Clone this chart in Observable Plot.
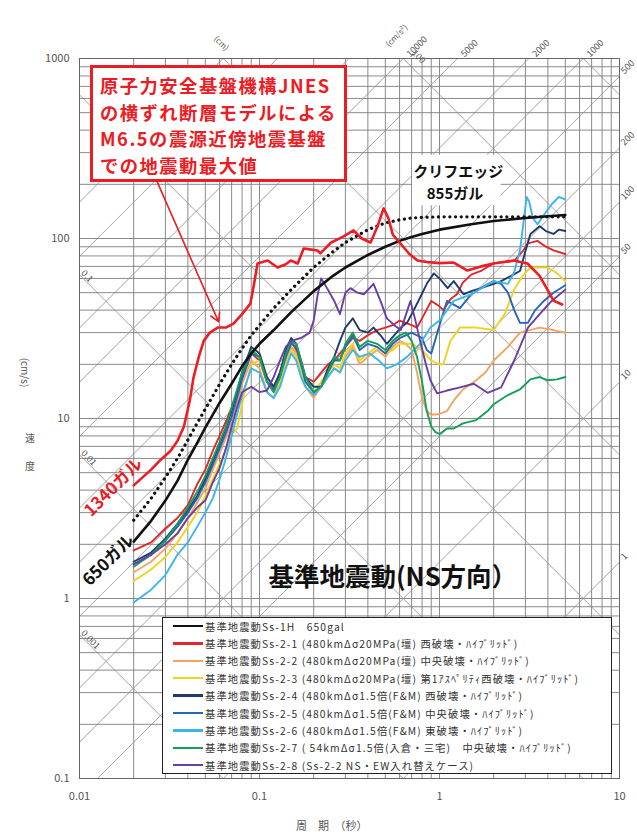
<!DOCTYPE html>
<html>
<head>
<meta charset="utf-8">
<script src="https://cdn.jsdelivr.net/npm/d3@7"></script>
<script src="https://cdn.jsdelivr.net/npm/@observablehq/plot@0.6"></script>
<style>
  body { margin: 0; background: #fff; }
  #wrap { position: relative; width: 637px; height: 832px; overflow: hidden;
          font-family: "Noto Sans CJK JP", "Noto Sans", sans-serif; }
  #wrap svg { position: absolute; left: 0; top: 0; }
  .abs { position: absolute; white-space: nowrap; }
  #note { left: 90px; top: 65px; width: 257px; height: 117px; box-sizing: border-box;
          border: 3px solid #ec1c24; background: #fff; }
  .nline { position: absolute; left: 7px; color: #ec1c24; font-weight: bold;
           font-size: 18.3px; line-height: 26.5px; letter-spacing: 1.5px; }
  #legend { left: 162px; top: 617px; width: 450px; height: 157px; box-sizing: border-box;
            border: 1.5px solid #222; background: #fff; }
  .lrow { position: absolute; left: 10px; height: 16px; display: flex; align-items: center;
          font-size: 10.3px; color: #333; letter-spacing: 1.1px; }
  .lrow span.sw { display: inline-block; width: 30px; height: 2.6px; margin-right: 2px; }
  .axt { color: #555; font-size: 11px; }
</style>
</head>
<body>
<div id="wrap"></div>
<script>
// ---- tick values and labels ----
const periodTicks = [0.01, 0.1, 1, 10];
const periodTickLabels = ["0.01", "0.1", "1", "10"];
const velocityTicks = [0.1, 1, 10, 100, 1000];
const velocityTickLabels = ["0.1", "1", "10", "100", "1000"];

// tripartite guide lines: pseudo-acceleration (cm/s²) and displacement (cm)
const accelLines = [1, 10, 50, 100, 200, 500, 1000, 2000, 5000, 10000, 20000, 50000, 100000];
const dispLines = [0.001, 0.01, 0.1, 1, 10, 100, 1000];
const accelTopLabels = [10000, 5000, 2000, 1000];
const accelRightLabels = [500, 200, 100, 50, 10, 1];
const dispLeftLabels = [0.1, 0.01, 0.001];
const dispTopLabels = [100];

// ---- response spectra (period s, velocity cm/s) ----
const ss1H = [[0.02,2.07],[0.025,2.7],[0.03,3.5],[0.035,4.5],[0.04,5.9],[0.045,7.3],[0.05,8.9],[0.06,12.2],[0.07,15.6],[0.08,19.5],[0.09,23],[0.1,26],[0.12,31],[0.15,39],[0.2,51],[0.25,61],[0.3,69],[0.4,81],[0.5,90],[0.6,97],[0.7,102],[0.8,106],[1.0,112],[1.5,120],[2,125],[3,130],[4,133],[5,135]];
const cliffEdge = [[0.02,2.72],[0.025,3.6],[0.03,4.7],[0.035,6.0],[0.04,7.6],[0.045,9.4],[0.05,11.3],[0.06,15.5],[0.07,20],[0.08,24.5],[0.09,29],[0.1,33],[0.12,41],[0.15,52],[0.2,69],[0.25,83],[0.3,95],[0.4,112],[0.5,122],[0.6,127],[0.7,130],[0.8,131],[1,132],[2,132],[3,132],[5,132]];
const jnesM65 = [[0.02,4.25],[0.025,5.2],[0.028,5.85],[0.032,6.6],[0.035,7.5],[0.038,9],[0.041,12.6],[0.043,16.9],[0.046,22],[0.049,27],[0.053,30],[0.0585,32],[0.065,32],[0.0717,33.7],[0.08,38],[0.089,43.5],[0.093,55],[0.0975,72.6],[0.111,75.5],[0.126,69],[0.14,72],[0.149,75.5],[0.163,72.6],[0.176,88],[0.19,87],[0.21,85.8],[0.218,82.6],[0.25,95],[0.29,102],[0.333,111],[0.37,100],[0.414,95],[0.45,115],[0.489,147],[0.52,130],[0.55,105],[0.607,93.8],[0.68,82],[0.755,75.5],[0.85,74],[1.0,73],[1.2,73.5],[1.43,66.4],[1.7,70],[2.0,72.6],[2.58,75.5],[3.08,72.6],[3.6,62],[4.3,45.2],[4.8,43]];
const ss2_1 = [[0.02,1.85],[0.025,2.05],[0.03,2.45],[0.035,2.8],[0.04,3.3],[0.045,4.3],[0.05,5.2],[0.055,6.6],[0.06,8.0],[0.065,9.6],[0.07,11.5],[0.075,14],[0.08,17],[0.09,23],[0.1,21],[0.11,16],[0.12,15],[0.13,18],[0.14,23],[0.15,27],[0.16,24],[0.17,20],[0.18,17],[0.2,16],[0.22,18],[0.24,20],[0.26,21],[0.28,23],[0.3,25],[0.33,28],[0.36,27],[0.4,29],[0.45,31],[0.5,32],[0.55,33],[0.6,35],[0.7,33],[0.75,32],[0.8,36],[0.9,45],[1.0,42],[1.05,40],[1.15,46],[1.25,49],[1.35,57],[1.5,63],[1.7,66],[2.0,73],[2.3,74],[2.6,75],[2.9,85],[3.1,94],[3.5,97],[3.9,90],[4.3,86],[5.0,82]];
const ss2_2 = [[0.02,1.4],[0.025,1.6],[0.03,1.9],[0.035,2.3],[0.04,2.8],[0.045,3.4],[0.05,4.1],[0.055,5.2],[0.06,6.4],[0.065,7.8],[0.07,9.5],[0.075,12],[0.08,15.5],[0.09,21],[0.1,19],[0.11,14],[0.12,13],[0.13,16],[0.14,21],[0.15,25],[0.16,23],[0.17,18],[0.18,15],[0.2,13],[0.22,15],[0.24,17],[0.26,19],[0.28,18],[0.3,22],[0.33,25],[0.36,20],[0.4,22],[0.45,24],[0.5,22],[0.55,25],[0.6,27],[0.65,26],[0.7,24],[0.75,18],[0.8,13],[0.85,11],[0.9,10.5],[1.0,10.6],[1.1,11],[1.2,12.6],[1.35,14.5],[1.6,16.3],[1.8,18],[2.0,21],[2.4,25],[2.8,30],[3.6,32],[4.3,31],[5.0,30]];
const ss2_3 = [[0.02,1.25],[0.025,1.45],[0.03,1.7],[0.035,2.05],[0.04,2.5],[0.045,3.0],[0.05,3.7],[0.055,4.6],[0.06,5.6],[0.065,6.6],[0.07,8.2],[0.075,8.8],[0.08,12],[0.085,16],[0.09,20],[0.1,21],[0.11,16],[0.12,14],[0.13,16],[0.14,20],[0.15,24],[0.16,22],[0.17,18],[0.18,16],[0.2,14],[0.22,16],[0.24,18],[0.26,20],[0.28,19],[0.3,23],[0.33,26],[0.36,21],[0.4,23],[0.45,25],[0.5,23],[0.55,24],[0.6,26],[0.7,26],[0.8,24],[0.9,21],[1.0,20],[1.05,20],[1.15,27],[1.3,32],[1.6,32],[2.0,31],[2.3,38],[2.6,52],[2.9,62],[3.2,69],[4.0,69],[4.5,64],[5.0,58]];
const ss2_4 = [[0.02,1.6],[0.025,1.8],[0.03,2.15],[0.035,2.6],[0.04,3.1],[0.045,3.7],[0.05,4.6],[0.055,5.8],[0.06,7.2],[0.065,8.8],[0.07,11],[0.075,14],[0.08,18],[0.09,25],[0.1,23],[0.11,17],[0.12,15],[0.13,18],[0.14,24],[0.15,28],[0.16,26],[0.17,21],[0.18,17],[0.2,15],[0.22,15],[0.24,19],[0.26,22],[0.28,27],[0.3,32],[0.33,36],[0.36,31],[0.4,30],[0.43,32],[0.47,29],[0.51,26],[0.56,29],[0.61,32],[0.66,34],[0.72,40],[0.78,47],[0.85,56],[0.93,64],[1.0,60],[1.11,53],[1.2,58],[1.36,49],[1.5,51],[1.7,53],[2.0,56],[2.2,58],[2.5,62],[2.8,66],[3.0,85],[3.2,106],[3.6,117],[3.9,110],[4.3,106],[4.6,112],[5.0,110]];
const ss2_5 = [[0.02,1.55],[0.025,1.75],[0.03,2.1],[0.035,2.5],[0.04,3.0],[0.045,3.6],[0.05,4.4],[0.055,5.5],[0.06,6.8],[0.065,8.3],[0.07,10.2],[0.075,13],[0.08,16.5],[0.09,23],[0.1,22],[0.11,16],[0.12,14.5],[0.13,17],[0.14,22],[0.15,26],[0.16,25],[0.17,20],[0.18,16],[0.2,14],[0.22,15],[0.24,18],[0.26,21],[0.28,21],[0.3,25],[0.33,29],[0.36,24],[0.4,26],[0.45,25],[0.5,23],[0.55,26],[0.6,28],[0.7,30],[0.8,28],[0.85,24],[0.9,23],[1.0,33],[1.1,45],[1.3,41],[1.5,49],[1.8,55],[2.0,58],[2.2,56],[2.4,50],[2.6,40],[2.8,34],[3.1,34],[3.4,40],[3.8,45],[4.3,50],[5.0,55]];
const ss2_6 = [[0.02,0.95],[0.025,1.12],[0.03,1.35],[0.035,1.75],[0.04,2.05],[0.045,2.5],[0.05,3.0],[0.055,3.6],[0.06,4.6],[0.065,6.0],[0.07,8],[0.075,10.5],[0.08,13.5],[0.09,19],[0.1,18],[0.11,14],[0.12,13],[0.13,15],[0.14,19],[0.15,23],[0.16,21],[0.17,17],[0.18,15],[0.2,13.5],[0.22,15],[0.24,17],[0.26,19],[0.28,18],[0.3,21],[0.33,24],[0.36,22],[0.41,23],[0.46,21],[0.51,19],[0.58,20],[0.66,22],[0.78,26],[0.89,32],[1.0,35],[1.2,45],[1.5,49],[2.0,58],[2.4,56],[2.6,65],[2.8,86],[2.95,130],[3.05,170],[3.15,160],[3.3,130],[3.5,120],[3.8,135],[4.2,155],[4.6,170],[5.0,165]];
const ss2_7 = [[0.02,1.5],[0.025,1.75],[0.03,2.1],[0.035,2.6],[0.04,3.2],[0.045,3.9],[0.05,4.8],[0.055,6.0],[0.06,7.4],[0.065,9.0],[0.07,11.5],[0.075,14.5],[0.08,18],[0.09,24],[0.1,22],[0.11,16],[0.12,14],[0.13,17],[0.14,23],[0.15,27],[0.16,26],[0.17,21],[0.18,17],[0.2,14],[0.22,15],[0.24,18],[0.26,22],[0.28,21],[0.3,26],[0.33,30],[0.36,25],[0.4,27],[0.45,26],[0.5,24],[0.55,27],[0.6,29],[0.65,30],[0.7,27],[0.75,22],[0.8,16],[0.85,11],[0.9,9],[0.95,8.4],[1.0,8.2],[1.1,8.8],[1.2,8.8],[1.35,9.4],[1.6,9.8],[1.85,11],[2.0,12],[2.4,13.5],[2.8,14.5],[3.2,16.5],[3.6,17],[4.0,16.3],[4.5,16.5],[5.0,17]];
const ss2_8 = [[0.02,1.55],[0.025,1.75],[0.03,2.0],[0.035,2.3],[0.04,2.8],[0.045,3.2],[0.05,3.5],[0.055,4.4],[0.06,5.3],[0.065,6.8],[0.07,9.0],[0.075,11.5],[0.08,14],[0.09,15],[0.1,14],[0.11,14.3],[0.12,17],[0.13,21],[0.14,25],[0.15,27],[0.17,28],[0.19,30],[0.2,35],[0.21,48],[0.22,60],[0.24,52],[0.26,45],[0.28,38],[0.3,50],[0.32,53],[0.35,50],[0.38,49],[0.43,56],[0.47,45],[0.51,36],[0.56,33],[0.61,31],[0.69,45],[0.73,36],[0.78,27],[0.84,20],[0.89,16.3],[0.97,13.8],[1.1,14.3],[1.3,14.9],[1.55,15.6],[1.85,13.9],[2.2,14.9],[2.6,21],[3.1,32],[3.6,38],[4.2,45],[5.0,52]];

const seriesNames = [
  "基準地震動Ss-1H　650gal",
  "基準地震動Ss-2-1 (480kmΔσ20MPa(壇) 西破壊・ﾊｲﾌﾞﾘｯﾄﾞ)",
  "基準地震動Ss-2-2 (480kmΔσ20MPa(壇) 中央破壊・ﾊｲﾌﾞﾘｯﾄﾞ)",
  "基準地震動Ss-2-3 (480kmΔσ20MPa(壇) 第1ｱｽﾍﾟﾘﾃｨ西破壊・ﾊｲﾌﾞﾘｯﾄﾞ)",
  "基準地震動Ss-2-4 (480kmΔσ1.5倍(F&M) 西破壊・ﾊｲﾌﾞﾘｯﾄﾞ)",
  "基準地震動Ss-2-5 (480kmΔσ1.5倍(F&M) 中央破壊・ﾊｲﾌﾞﾘｯﾄﾞ)",
  "基準地震動Ss-2-6 (480kmΔσ1.5倍(F&M) 東破壊・ﾊｲﾌﾞﾘｯﾄﾞ)",
  "基準地震動Ss-2-7 ( 54kmΔσ1.5倍(入倉・三宅)　中央破壊・ﾊｲﾌﾞﾘｯﾄﾞ)",
  "基準地震動Ss-2-8 (Ss-2-2 NS・EW入れ替えケース)"
];
const seriesColors = ["#111111", "#e3262b", "#f3a461", "#f1d31f", "#1d3c6c", "#2766b6", "#3ab6ea", "#14a05a", "#6a3ea4"];
const seriesData = [ss1H, ss2_1, ss2_2, ss2_3, ss2_4, ss2_5, ss2_6, ss2_7, ss2_8];
const noteLines = ["原子力安全基盤機構JNES", "の横ずれ断層モデルによる", "M6.5の震源近傍地震基盤", "での地震動最大値"];

// ---- helpers ----
const TWO_PI = 2 * Math.PI;
const T_DOM = [0.01, 10], V_DOM = [0.1, 1000];
// pseudo-acceleration line V = A·T/2π, cut to the chart window
function accelSegment(a) {
  const t0 = Math.max(T_DOM[0], V_DOM[0] * TWO_PI / a);
  const t1 = Math.min(T_DOM[1], V_DOM[1] * TWO_PI / a);
  return t0 < t1 ? [{k: a, T: t0, V: a * t0 / TWO_PI}, {k: a, T: t1, V: a * t1 / TWO_PI}] : [];
}
// displacement line V = 2πD/T, cut to the chart window
function dispSegment(d) {
  const t0 = Math.max(T_DOM[0], TWO_PI * d / V_DOM[1]);
  const t1 = Math.min(T_DOM[1], TWO_PI * d / V_DOM[0]);
  return t0 < t1 ? [{k: d, T: t0, V: TWO_PI * d / t0}, {k: d, T: t1, V: TWO_PI * d / t1}] : [];
}
const minorGrid = (lo, hi) => {
  const out = [];
  for (let e = lo; e < hi; e++) for (let m = 1; m <= 9; m++) out.push(m * 10 ** e);
  out.push(10 ** hi);
  return out;
};
const periodGrid = minorGrid(-2, 1);
const velocityGrid = minorGrid(-1, 3);
const toRows = (arr, i) => arr.map(([T, V]) => ({T, V, s: i}));
const fmtNum = d => String(d);

const FONT = '"Noto Sans CJK JP", "Noto Sans", sans-serif';
const GRAY_TXT = "#555";

const thinLines = [1, 2, 3, 4, 5, 6, 7, 8].map(i =>
  Plot.line(toRows(seriesData[i], i), {x: "T", y: "V", stroke: seriesColors[i], strokeWidth: 1.9, strokeLinejoin: "round"}));

const chart = Plot.plot({
  width: 637, height: 832,
  marginLeft: 79, marginRight: 18, marginTop: 58, marginBottom: 54,
  x: {type: "log", domain: T_DOM},
  y: {type: "log", domain: V_DOM},
  style: {fontFamily: FONT, background: "transparent", overflow: "visible"},
  marks: [
    Plot.ruleX(periodGrid, {stroke: "#7d7d7d", strokeWidth: 0.9}),
    Plot.ruleY(velocityGrid, {stroke: "#7d7d7d", strokeWidth: 0.9}),
    Plot.line(accelLines.flatMap(accelSegment), {x: "T", y: "V", z: "k", stroke: "#8a8a8a", strokeWidth: 0.8}),
    Plot.line(dispLines.flatMap(dispSegment), {x: "T", y: "V", z: "k", stroke: "#8a8a8a", strokeWidth: 0.8}),
    Plot.frame({stroke: "#666", strokeWidth: 1}),
    // guide-line labels
    Plot.text(accelTopLabels, {x: a => TWO_PI * V_DOM[1] / a, y: V_DOM[1], text: fmtNum, rotate: -45, textAnchor: "start", dx: 5, dy: -3, fontSize: 9, fill: GRAY_TXT}),
    Plot.text(accelRightLabels, {x: T_DOM[1], y: a => a * T_DOM[1] / TWO_PI, text: fmtNum, rotate: -45, textAnchor: "start", dx: 3, dy: -4, fontSize: 9, fill: GRAY_TXT}),
    Plot.text(dispLeftLabels, {x: T_DOM[0], y: d => TWO_PI * d / T_DOM[0], text: fmtNum, rotate: 45, textAnchor: "start", dx: 3, dy: -3, fontSize: 9, fill: GRAY_TXT}),
    Plot.text(dispTopLabels, {x: d => TWO_PI * d / V_DOM[1], y: V_DOM[1], text: fmtNum, rotate: 45, textAnchor: "start", dx: 10, dy: -7, fontSize: 9, fill: GRAY_TXT}),
    Plot.text(["(cm)"], {x: TWO_PI * 10 / V_DOM[1], y: V_DOM[1], text: d => d, rotate: 45, dx: -2, dy: -15, fontSize: 8, fill: GRAY_TXT}),
    Plot.text(["(cm/s²)"], {x: TWO_PI * V_DOM[1] / 10000, y: V_DOM[1], text: d => d, rotate: -45, textAnchor: "start", dx: -16, dy: -13, fontSize: 8, fill: GRAY_TXT}),
    // tick labels
    Plot.axisX(periodTicks, {tickSize: 0, tickPadding: 14, tickFormat: d => periodTickLabels[periodTicks.indexOf(d)], fontSize: 11, color: GRAY_TXT, label: null}),
    Plot.axisY(velocityTicks, {tickSize: 0, tickPadding: 10, tickFormat: d => velocityTickLabels[velocityTicks.indexOf(d)], fontSize: 11, color: GRAY_TXT, label: null}),
    // white backing for the cliff-edge label
    Plot.rect([0], {x1: 0.71, x2: 2.2, y1: 152, y2: 290, fill: "white"}),
    // spectra
    ...thinLines,
    Plot.line(toRows(ss1H, 0), {x: "T", y: "V", stroke: "#111", strokeWidth: 2.6}),
    Plot.line(toRows(cliffEdge, 9), {x: "T", y: "V", stroke: "#111", strokeWidth: 3.2, strokeDasharray: "0.1,5.6", strokeLinecap: "round"}),
    Plot.line(toRows(jnesM65, 10), {x: "T", y: "V", stroke: "#ee1c24", strokeWidth: 2.6, strokeLinejoin: "round"}),
    Plot.arrow([0], {x1: 0.0271, y1: 205, x2: 0.0592, y2: 34.5, stroke: "#ee1c24", strokeWidth: 1.6, headLength: 9}),
    // annotations
    Plot.text(["クリフエッジ"], {x: 1.27, y: 235, text: d => d, fontSize: 15, fontWeight: "bold", fill: "#111"}),
    Plot.text(["855ガル"], {x: 1.22, y: 176, text: d => d, fontSize: 15, fontWeight: "bold", fill: "#111"}),
    Plot.text(["650ガル"], {x: 0.0145, y: 1.63, text: d => d, rotate: -45, fontSize: 17, fontWeight: "bold", fill: "#111"}),
    Plot.text(["1340ガル"], {x: 0.01545, y: 4.14, text: d => d, rotate: -45, fontSize: 17, fontWeight: "bold", fill: "#ec1c24"}),
    Plot.text(["基準地震動(NS方向）"], {x: 0.55, y: 1.31, text: d => d, fontSize: 25.5, fontWeight: "bold", fill: "#111"})
  ]
});

const wrap = document.getElementById("wrap");
wrap.appendChild(chart);

// annotation box
const note = document.createElement("div");
note.id = "note"; note.className = "abs";
noteLines.forEach((txt, i) => {
  const d = document.createElement("div");
  d.className = "nline"; d.textContent = txt;
  d.style.top = (4 + i * 26.5) + "px";
  note.appendChild(d);
});
wrap.appendChild(note);

// legend
const legend = document.createElement("div");
legend.id = "legend"; legend.className = "abs";
seriesNames.forEach((name, i) => {
  const row = document.createElement("div");
  row.className = "lrow";
  row.style.top = (0 + i * 17.4) + "px";
  row.innerHTML = `<span class="sw" style="background:${seriesColors[i]}"></span><span>${name}</span>`;
  legend.appendChild(row);
});
wrap.appendChild(legend);

// axis titles
const addText = (txt, css) => {
  const d = document.createElement("div");
  d.className = "abs axt"; d.textContent = txt;
  Object.assign(d.style, css);
  wrap.appendChild(d);
};
addText("周　期　（秒）", {left: "296px", top: "817px", fontSize: "11px"});
addText("(cm/s)", {left: "11px", top: "365px", transform: "rotate(90deg)", fontSize: "10px"});
addText("速", {left: "25px", top: "430px", fontSize: "10px"});
addText("度", {left: "25px", top: "458px", fontSize: "10px"});
</script>
</body>
</html>
